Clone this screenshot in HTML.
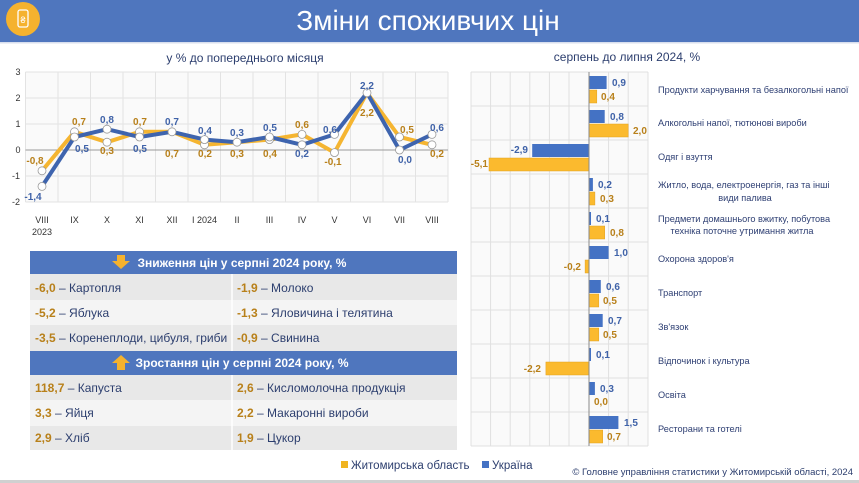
<!DOCTYPE html>
<html><head><meta charset="utf-8"><style>
body{margin:0;width:859px;height:483px;overflow:hidden;background:#fff;font-family:"Liberation Sans",sans-serif}
svg{display:block}
.bl{fill:#3F62A8;font-size:10px;font-weight:bold}
.or{fill:#B8801A;font-size:10px;font-weight:bold}
.ax{fill:#333;font-size:9px}
.cat{fill:#2E3F73;font-size:9.2px}
.tt{font-size:12px;fill:#2C3E6E}
.th{fill:#fff;font-size:12px;font-weight:bold}
.tn{fill:#B8801A;font-weight:bold;font-size:12px}
.tx{fill:#2C3E6E;font-size:12px}
</style></head><body>
<svg width="859" height="483" viewBox="0 0 859 483" xmlns="http://www.w3.org/2000/svg">
<rect x="0" y="0" width="859" height="42" fill="#4F76BE"/>
<circle cx="23" cy="19" r="17" fill="#F5B22E"/>
<rect x="18" y="10" width="10" height="17" rx="2" fill="none" stroke="#fff" stroke-width="1.3"/>
<text x="23" y="23" text-anchor="middle" fill="#fff" font-size="9">₴</text>
<text x="428" y="30" text-anchor="middle" fill="#fff" font-size="28">Зміни споживчих цін</text>
<rect x="0" y="42" width="859" height="1.5" fill="#D8DFEE"/>

<text x="245" y="62" text-anchor="middle" class="tt" font-size="13">у % до попереднього місяця</text>
<rect x="25.5" y="72" width="422.5" height="130" fill="#FAFAFA"/>
<g stroke="#E3E3E3" stroke-width="1">
<line x1="25.5" y1="72" x2="448" y2="72"/><line x1="25.5" y1="98" x2="448" y2="98"/><line x1="25.5" y1="124" x2="448" y2="124"/><line x1="25.5" y1="176" x2="448" y2="176"/><line x1="25.5" y1="202" x2="448" y2="202"/>
<line x1="25.5" y1="72" x2="25.5" y2="202"/><line x1="58" y1="72" x2="58" y2="202"/><line x1="90.5" y1="72" x2="90.5" y2="202"/><line x1="123" y1="72" x2="123" y2="202"/><line x1="155.5" y1="72" x2="155.5" y2="202"/><line x1="188" y1="72" x2="188" y2="202"/><line x1="220.5" y1="72" x2="220.5" y2="202"/><line x1="253" y1="72" x2="253" y2="202"/><line x1="285.5" y1="72" x2="285.5" y2="202"/><line x1="318" y1="72" x2="318" y2="202"/><line x1="350.5" y1="72" x2="350.5" y2="202"/><line x1="383" y1="72" x2="383" y2="202"/><line x1="415.5" y1="72" x2="415.5" y2="202"/><line x1="448" y1="72" x2="448" y2="202"/>
</g>
<line x1="25.5" y1="150" x2="448" y2="150" stroke="#9A9A9A" stroke-width="1"/>
<g class="ax" text-anchor="middle"><text x="18" y="75">3</text><text x="18" y="101">2</text><text x="18" y="127">1</text><text x="18" y="153">0</text><text x="16" y="179">-1</text><text x="16" y="205">-2</text></g>
<g class="ax" text-anchor="middle" font-size="9.5">
<text x="42" y="223">VIII</text><text x="42" y="235">2023</text><text x="74.5" y="223">IX</text><text x="107" y="223">X</text><text x="139.5" y="223">XI</text><text x="172" y="223">XII</text><text x="204.5" y="223">I 2024</text><text x="237" y="223">II</text><text x="269.5" y="223">III</text><text x="302" y="223">IV</text><text x="334.5" y="223">V</text><text x="367" y="223">VI</text><text x="399.5" y="223">VII</text><text x="432" y="223">VIII</text></g>
<polyline fill="none" stroke="#F5B531" stroke-width="4" stroke-linejoin="round" points="42,170.8 74.5,131.8 107,142.2 139.5,131.8 172,131.8 204.5,144.8 237,142.2 269.5,139.6 302,134.4 334.5,152.6 367,92.8 399.5,137 432,144.8"/>
<polyline fill="none" stroke="#3E64AE" stroke-width="4" stroke-linejoin="round" points="42,186.4 74.5,137 107,129.2 139.5,137 172,131.8 204.5,139.6 237,142.2 269.5,137 302,144.8 334.5,134.4 367,92.8 399.5,150 432,134.4"/>
<g fill="#fff" stroke="#999" stroke-width="0.8">
<circle cx="42" cy="170.8" r="4"/><circle cx="74.5" cy="131.8" r="4"/><circle cx="107" cy="142.2" r="4"/><circle cx="139.5" cy="131.8" r="4"/><circle cx="204.5" cy="144.8" r="4"/><circle cx="269.5" cy="139.6" r="4"/><circle cx="302" cy="134.4" r="4"/><circle cx="334.5" cy="152.6" r="4"/><circle cx="399.5" cy="137" r="4"/><circle cx="432" cy="144.8" r="4"/>
<circle cx="42" cy="186.4" r="4"/><circle cx="74.5" cy="137" r="4"/><circle cx="107" cy="129.2" r="4"/><circle cx="139.5" cy="137" r="4"/><circle cx="172" cy="131.8" r="4"/><circle cx="204.5" cy="139.6" r="4"/><circle cx="237" cy="142.2" r="4"/><circle cx="269.5" cy="137" r="4"/><circle cx="302" cy="144.8" r="4"/><circle cx="334.5" cy="134.4" r="4"/><circle cx="367" cy="92.8" r="4"/><circle cx="399.5" cy="150" r="4"/><circle cx="432" cy="134.4" r="4"/>
</g>
<g text-anchor="middle">
<text class="or" x="35" y="164">-0,8</text><text class="bl" x="33" y="200">-1,4</text>
<text class="or" x="79" y="125">0,7</text><text class="bl" x="82" y="152">0,5</text>
<text class="bl" x="107" y="123">0,8</text><text class="or" x="107" y="154">0,3</text>
<text class="or" x="140" y="125">0,7</text><text class="bl" x="140" y="152">0,5</text>
<text class="bl" x="172" y="125">0,7</text><text class="or" x="172" y="157">0,7</text>
<text class="bl" x="205" y="134">0,4</text><text class="or" x="205" y="157">0,2</text>
<text class="bl" x="237" y="136">0,3</text><text class="or" x="237" y="157">0,3</text>
<text class="bl" x="270" y="131">0,5</text><text class="or" x="270" y="157">0,4</text>
<text class="or" x="302" y="128">0,6</text><text class="bl" x="302" y="157">0,2</text>
<text class="bl" x="330" y="133">0,6</text><text class="or" x="333" y="165">-0,1</text>
<text class="bl" x="367" y="89">2,2</text><text class="or" x="367" y="116">2,2</text>
<text class="or" x="407" y="133">0,5</text><text class="bl" x="405" y="163">0,0</text>
<text class="bl" x="437" y="131">0,6</text><text class="or" x="437" y="157">0,2</text>
</g>

<rect x="30" y="251" width="427" height="23" fill="#4F76BE"/>
<rect x="30" y="351" width="427" height="24" fill="#4F76BE"/>
<rect x="30" y="274" width="427" height="26" fill="#E8E8E8"/>
<rect x="30" y="300" width="427" height="25" fill="#F4F4F4"/>
<rect x="30" y="325" width="427" height="26" fill="#E8E8E8"/>
<rect x="30" y="375" width="427" height="25" fill="#E8E8E8"/>
<rect x="30" y="400" width="427" height="26" fill="#F4F4F4"/>
<rect x="30" y="426" width="427" height="24" fill="#E8E8E8"/>
<g stroke="#fff" stroke-width="1.5"><line x1="232" y1="274" x2="232" y2="351"/><line x1="232" y1="375" x2="232" y2="450"/></g>
<polygon points="117,255 125,255 125,261 130,261 121,269 112,261 117,261" fill="#F5B22E"/>
<polygon points="121,355 130,363 125,363 125,370 117,370 117,363 112,363" fill="#F5B22E"/>
<text class="th" x="242" y="267" text-anchor="middle">Зниження цін у серпні 2024 року, %</text>
<text class="th" x="242" y="367" text-anchor="middle">Зростання цін у серпні 2024 року, %</text>
<g>
<text x="35" y="292"><tspan class="tn">-6,0</tspan><tspan class="tx"> – Картопля</tspan></text>
<text x="237" y="292"><tspan class="tn">-1,9</tspan><tspan class="tx"> – Молоко</tspan></text>
<text x="35" y="317"><tspan class="tn">-5,2</tspan><tspan class="tx"> – Яблука</tspan></text>
<text x="237" y="317"><tspan class="tn">-1,3</tspan><tspan class="tx"> – Яловичина і телятина</tspan></text>
<text x="35" y="342"><tspan class="tn">-3,5</tspan><tspan class="tx"> – Коренеплоди, цибуля, гриби</tspan></text>
<text x="237" y="342"><tspan class="tn">-0,9</tspan><tspan class="tx"> – Свинина</tspan></text>
<text x="35" y="392"><tspan class="tn">118,7</tspan><tspan class="tx"> – Капуста</tspan></text>
<text x="237" y="392"><tspan class="tn">2,6</tspan><tspan class="tx"> – Кисломолочна продукція</tspan></text>
<text x="35" y="417"><tspan class="tn">3,3</tspan><tspan class="tx"> – Яйця</tspan></text>
<text x="237" y="417"><tspan class="tn">2,2</tspan><tspan class="tx"> – Макаронні вироби</tspan></text>
<text x="35" y="442"><tspan class="tn">2,9</tspan><tspan class="tx"> – Хліб</tspan></text>
<text x="237" y="442"><tspan class="tn">1,9</tspan><tspan class="tx"> – Цукор</tspan></text>
</g>

<text x="627" y="61" text-anchor="middle" class="tt" font-size="13">серпень до липня 2024, %</text>
<rect x="471" y="72" width="177" height="374" fill="#FAFAFA"/>
<g stroke="#E0E0E0" stroke-width="1">
<line x1="471" y1="72" x2="471" y2="446"/><line x1="490.6" y1="72" x2="490.6" y2="446"/><line x1="510.2" y1="72" x2="510.2" y2="446"/><line x1="529.8" y1="72" x2="529.8" y2="446"/><line x1="549.4" y1="72" x2="549.4" y2="446"/><line x1="569" y1="72" x2="569" y2="446"/><line x1="608.6" y1="72" x2="608.6" y2="446"/><line x1="628.2" y1="72" x2="628.2" y2="446"/><line x1="648" y1="72" x2="648" y2="446"/>
<line x1="471" y1="72" x2="648" y2="72"/><line x1="471" y1="106" x2="648" y2="106"/><line x1="471" y1="140" x2="648" y2="140"/><line x1="471" y1="174" x2="648" y2="174"/><line x1="471" y1="208" x2="648" y2="208"/><line x1="471" y1="242" x2="648" y2="242"/><line x1="471" y1="276" x2="648" y2="276"/><line x1="471" y1="310" x2="648" y2="310"/><line x1="471" y1="344" x2="648" y2="344"/><line x1="471" y1="378" x2="648" y2="378"/><line x1="471" y1="412" x2="648" y2="412"/><line x1="471" y1="446" x2="648" y2="446"/>
</g>
<g fill="#4472C4">
<rect x="589" y="76" width="17.6" height="13"/><rect x="589" y="110" width="15.7" height="13"/><rect x="532.2" y="144" width="56.8" height="13"/><rect x="589" y="178" width="3.9" height="13"/><rect x="589" y="212" width="2" height="13"/><rect x="589" y="246" width="19.6" height="13"/><rect x="589" y="280" width="11.8" height="13"/><rect x="589" y="314" width="13.7" height="13"/><rect x="589" y="348" width="2" height="13"/><rect x="589" y="382" width="5.9" height="13"/><rect x="589" y="416" width="29.4" height="13"/>
</g>
<g fill="#FBBA2E" stroke="#E0A020" stroke-width="0.5">
<rect x="589" y="90" width="7.8" height="13"/><rect x="589" y="124" width="39.2" height="13"/><rect x="489" y="158" width="100" height="13"/><rect x="589" y="192" width="5.9" height="13"/><rect x="589" y="226" width="15.7" height="13"/><rect x="585.1" y="260" width="3.9" height="13"/><rect x="589" y="294" width="9.8" height="13"/><rect x="589" y="328" width="9.8" height="13"/><rect x="545.9" y="362" width="43.1" height="13"/><rect x="589" y="430" width="13.7" height="13"/>
</g>
<line x1="589" y1="72" x2="589" y2="446" stroke="#8A8A8A" stroke-width="1"/>
<g font-size="9.5">
<text class="bl" x="612" y="86" font-size="9.5">0,9</text><text class="or" x="601" y="100" font-size="9.5">0,4</text>
<text class="bl" x="610" y="120" font-size="9.5">0,8</text><text class="or" x="633" y="134" font-size="9.5">2,0</text>
<text class="bl" x="528" y="153" text-anchor="end" font-size="9.5">-2,9</text><text class="or" x="488" y="167" text-anchor="end" font-size="9.5">-5,1</text>
<text class="bl" x="598" y="188" font-size="9.5">0,2</text><text class="or" x="600" y="202" font-size="9.5">0,3</text>
<text class="bl" x="596" y="222" font-size="9.5">0,1</text><text class="or" x="610" y="236" font-size="9.5">0,8</text>
<text class="bl" x="614" y="256" font-size="9.5">1,0</text><text class="or" x="581" y="270" text-anchor="end" font-size="9.5">-0,2</text>
<text class="bl" x="606" y="290" font-size="9.5">0,6</text><text class="or" x="603" y="304" font-size="9.5">0,5</text>
<text class="bl" x="608" y="324" font-size="9.5">0,7</text><text class="or" x="603" y="338" font-size="9.5">0,5</text>
<text class="bl" x="596" y="358" font-size="9.5">0,1</text><text class="or" x="541" y="372" text-anchor="end" font-size="9.5">-2,2</text>
<text class="bl" x="600" y="392" font-size="9.5">0,3</text><text class="or" x="594" y="405" font-size="9.5">0,0</text>
<text class="bl" x="624" y="426" font-size="9.5">1,5</text><text class="or" x="607" y="440" font-size="9.5">0,7</text>
</g>
<g class="cat">
<text x="658" y="93">Продукти харчування та безалкогольні напої</text>
<text x="658" y="126">Алкогольні напої, тютюнові вироби</text>
<text x="658" y="160">Одяг і взуття</text>
<text x="658" y="188">Житло, вода, електроенергія, газ та інші</text>
<text x="745" y="201" text-anchor="middle">види палива</text>
<text x="658" y="222">Предмети домашнього вжитку, побутова</text>
<text x="742" y="234" text-anchor="middle">техніка поточне утримання житла</text>
<text x="658" y="262">Охорона здоров'я</text>
<text x="658" y="296">Транспорт</text>
<text x="658" y="330">Зв'язок</text>
<text x="658" y="364">Відпочинок і культура</text>
<text x="658" y="398">Освіта</text>
<text x="658" y="432">Ресторани та готелі</text>
</g>

<rect x="341" y="461" width="7" height="7" fill="#F0B420"/>
<text x="351" y="469" font-size="11.5" fill="#2C3E6E">Житомирська область</text>
<rect x="482" y="461" width="7" height="7" fill="#4472C4"/>
<text x="492" y="469" font-size="11.5" fill="#2C3E6E">Україна</text>
<text x="853" y="475" text-anchor="end" font-size="9.5" fill="#2C3E6E">© Головне управління статистики у Житомирській області, 2024</text>
<rect x="0" y="480" width="859" height="3" fill="#D0D0D0"/>
</svg>
</body></html>
